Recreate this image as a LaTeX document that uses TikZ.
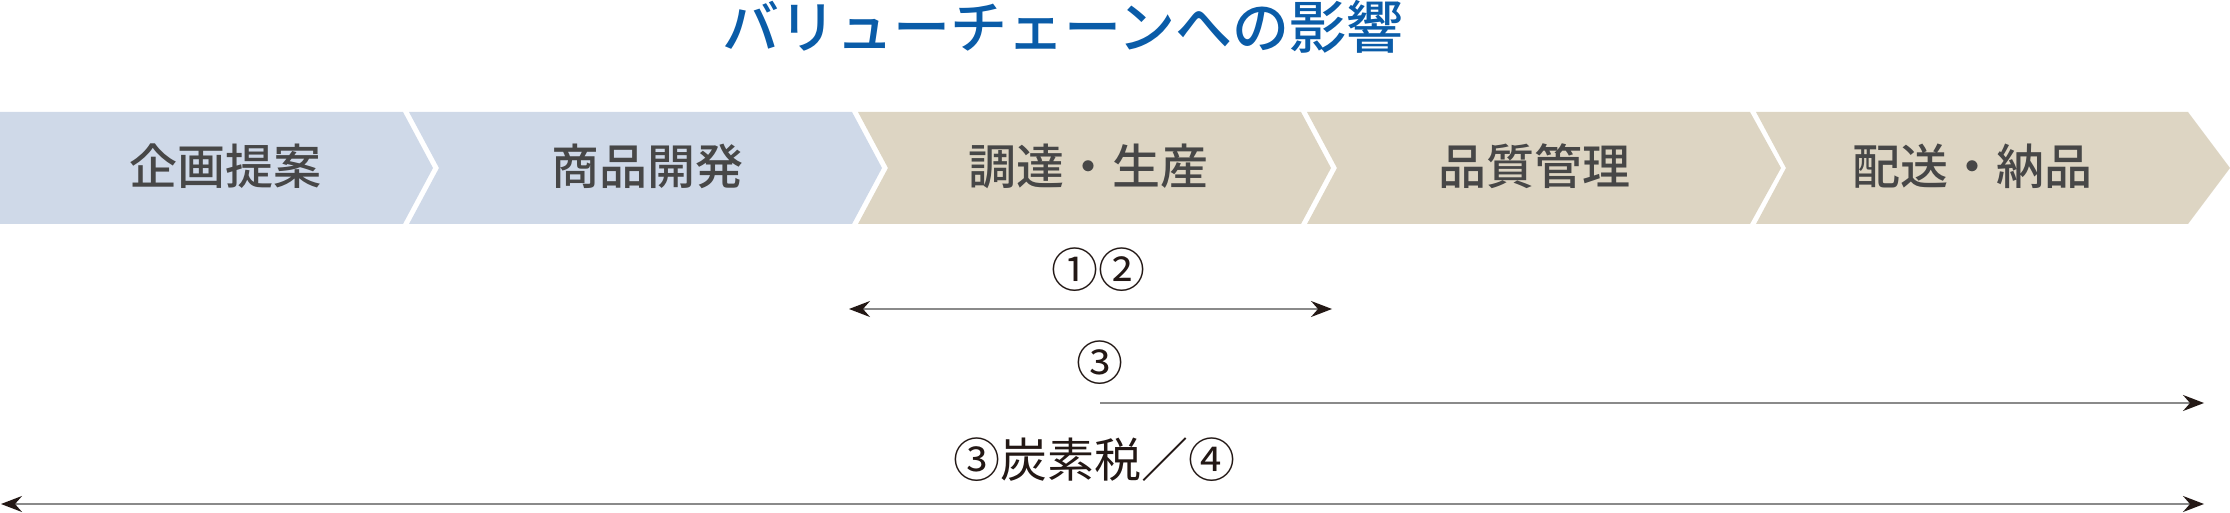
\documentclass[tikz,border=0pt]{standalone}
\usepackage{fontspec}
\setmainfont{Noto Sans CJK JP}
\newfontfamily\fuentemedia{Noto Sans CJK JP Medium}
\usetikzlibrary{arrows.meta}

\definecolor{azultitulo}{HTML}{0A5CA8}
\definecolor{azulclaro}{HTML}{CFD9E8}
\definecolor{beige}{HTML}{DDD5C3}
\definecolor{grisetapa}{HTML}{474747}
\definecolor{grislinea}{HTML}{8A8A8A}
\definecolor{puntaoscura}{HTML}{231815}

\tikzset{
  etapa/.style={text=grisetapa, inner sep=0pt, font=\fuentemedia\fontsize{48}{50}\selectfont},
  etiqueta/.style={text=puntaoscura, inner sep=0pt, font=\fontsize{47}{50}\selectfont},
  flecha/.style={draw=grislinea, line width=1.8pt,
    >={Stealth[length=21pt, width=16pt, inset=7pt, color=puntaoscura]}}
}

\begin{document}
\begin{tikzpicture}[x=1pt, y=-1pt]
    \useasboundingbox (0, 0) rectangle (2230, 513);

    % Título
    \node[text=azultitulo, inner sep=0pt, font=\fuentemedia\fontsize{57}{60}\selectfont] (titulo) at (1063, 26.5) {バリューチェーンへの影響};

    % Etapas (flechas de la cadena)
    \fill[azulclaro] (0, 112) -- (403, 112) -- (433, 168) -- (403, 224) -- (0, 224) -- cycle;
    \fill[azulclaro] (409, 112) -- (852, 112) -- (882, 168) -- (852, 224) -- (409, 224) -- (439, 168) -- cycle;
    \fill[beige] (858, 112) -- (1301, 112) -- (1331, 168) -- (1301, 224) -- (858, 224) -- (888, 168) -- cycle;
    \fill[beige] (1307, 112) -- (1750, 112) -- (1781, 168) -- (1750, 224) -- (1307, 224) -- (1337, 168) -- cycle;
    \fill[beige] (1756, 112) -- (2188, 112) -- (2230, 168) -- (2188, 224) -- (1756, 224) -- (1786, 168) -- cycle;

    % Nombres de las etapas
    \node[etapa] (kikaku) at (225, 166.5) {企画提案};
    \node[etapa] (kaihatsu) at (647, 166.5) {商品開発};
    \node[etapa] (chotatsu) at (1088, 166.5) {調達・生産};
    \node[etapa] (hinshitsu) at (1534, 166.5) {品質管理};
    \node[etapa] (haiso) at (1972, 166.5) {配送・納品};

    % Extremos de las flechas
    \coordinate (a1) at (849, 309);
    \coordinate (b1) at (1332, 309);
    \coordinate (a2) at (1100, 403);
    \coordinate (b2) at (2204, 403);
    \coordinate (a3) at (1, 504);
    \coordinate (b3) at (2204, 504);

    % Flechas de alcance
    \draw[flecha, <->] (a1) -- (b1);
    \draw[flecha, ->] (a2) -- (b2);
    \draw[flecha, <->] (a3) -- (b3);

    % Etiquetas de los alcances
    \node[etiqueta] (uno) at (1098, 270) {①②};
    \node[etiqueta] (tres) at (1100, 363) {③};
    \node[etiqueta] (carbono) at (1094, 460) {③炭素税／④};

  \end{tikzpicture}
\end{document}
